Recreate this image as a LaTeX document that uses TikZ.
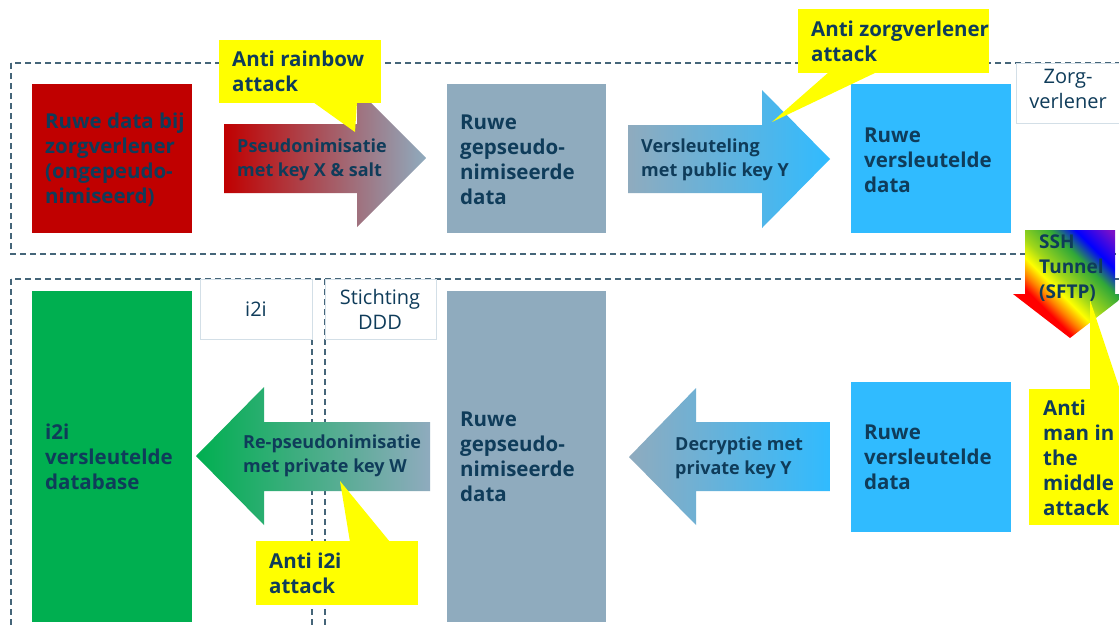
\documentclass[tikz,border=0pt]{standalone}
\usepackage{fontspec}
\setmainfont{Open Sans}
\usetikzlibrary{shadings}
\definecolor{tx}{HTML}{0F3C5A}
\definecolor{rd}{HTML}{C00000}
\definecolor{gb}{HTML}{8FABBE}
\definecolor{cy}{HTML}{30BBFF}
\definecolor{gn}{HTML}{00AF50}
\definecolor{yl}{HTML}{FFFF00}
\definecolor{dl}{HTML}{456579}
\definecolor{lb}{HTML}{D3DFE7}
\definecolor{rbgreen}{HTML}{30A838}
\definecolor{rbviolet}{HTML}{7A10C8}
\pgfdeclarehorizontalshading{rainbowsh}{100bp}{color(0bp)=(red); color(34bp)=(red); color(38.5bp)=(orange); color(44bp)=(yellow); color(50bp)=(yellow!55!rbgreen); color(61bp)=(rbgreen); color(69bp)=(blue); color(80bp)=(rbviolet); color(100bp)=(rbviolet)}
\tikzset{
  bt/.style={font=\bfseries\fontsize{20.5}{25}\selectfont, text=tx, align=left, inner sep=0pt, anchor=west},
  atx/.style={font=\bfseries\fontsize{18}{24}\selectfont, text=tx, align=left, inner sep=0pt, anchor=west},
  rt/.style={font=\fontsize{20}{25}\selectfont, text=tx, align=center, inner sep=0pt},
  blk/.style={inner sep=0pt, outer sep=0pt, draw=none},
  frame/.style={draw=dl, line width=1.1pt, dash pattern=on 6pt off 4pt},
  lbox/.style={fill=white, draw=lb, line width=1.2pt, inner sep=0pt},
}
\begin{document}
\begin{tikzpicture}[x=1pt,y=-1pt]
\useasboundingbox (0,0) rectangle (1119,627);
\clip (0,0) rectangle (1119,627);
\fill[white] (0,0) rectangle (1119,627);

% dashed frames
\draw[frame] (11,63) rectangle (1135,254);
\draw[frame] (11,279) rectangle (1135,650);
\coordinate (v1t) at (312,279); \coordinate (v1b) at (312,627);
\coordinate (v2t) at (325,279); \coordinate (v2b) at (325,627);
\draw[frame] (v1t) -- (v1b);
\draw[frame] (v2t) -- (v2b);

% label boxes
\node[lbox, minimum width=110, minimum height=60, anchor=north west] (zv) at (1016,63) {};
\node[rt] (zvt) at (1068,89) {Zorg-\\verlener};
\node[lbox, minimum width=112, minimum height=60, anchor=north west] (i2ib) at (200,279) {};
\node[rt] (i2it) at (256,309) {i2i};
\node[lbox, minimum width=111, minimum height=60, anchor=north west] (dddb) at (325,279) {};
\node[rt] (dddt) at (380,309) {Stichting\\DDD};

% top row blocks
\node[blk, fill=rd, minimum width=160, minimum height=149, anchor=north west] (raw) at (32,84) {};
\node[bt] (rawt) at (45,160) {Ruwe data bij\\zorgverlener\\(ongepeudo-\\nimiseerd)};
\node[blk, fill=gb, minimum width=159, minimum height=149, anchor=north west] (ps1) at (447,84) {};
\node[bt] (ps1t) at (460,160) {Ruwe\\gepseudo-\\nimiseerde\\data};
\node[blk, fill=cy, minimum width=160, minimum height=149, anchor=north west] (enc1) at (851,84) {};
\node[bt] (enc1t) at (864,160) {Ruwe\\versleutelde\\data};

% bottom row blocks
\node[blk, fill=gn, minimum width=160, minimum height=331, anchor=north west] (db) at (32,291) {};
\node[bt] (dbt) at (45,457) {i2i\\versleutelde\\database};
\node[blk, fill=gb, minimum width=159, minimum height=331, anchor=north west] (ps2) at (447,291) {};
\node[bt] (ps2t) at (460,457) {Ruwe\\gepseudo-\\nimiseerde\\data};
\node[blk, fill=cy, minimum width=160, minimum height=150, anchor=north west] (enc2) at (851,382) {};
\node[bt] (enc2t) at (864,457) {Ruwe\\versleutelde\\data};

% block arrows
\shade[left color=rd, right color=gb] (224,124) -- (357,124) -- (357,89) -- (426,158) -- (357,227) -- (357,193) -- (224,193) -- cycle;
\node[atx] (a1t) at (237,160) {Pseudonimisatie\\met key X \& salt};
\shade[left color=gb, right color=cy] (628,125) -- (762,125) -- (762,90) -- (830,159) -- (762,228) -- (762,193) -- (628,193) -- cycle;
\node[atx] (a2t) at (641,160) {Versleuteling\\met public key Y};
\shade[left color=gb, right color=cy] (830,422) -- (696,422) -- (696,388) -- (629,457) -- (696,525) -- (696,491) -- (830,491) -- cycle;
\node[atx] (a3t) at (675,458) {Decryptie met\\private key Y};
\shade[left color=gn, right color=gb] (430,422) -- (264,422) -- (264,387) -- (196,456) -- (264,525) -- (264,491) -- (430,491) -- cycle;
\node[atx] (a4t) at (243,456) {Re-pseudonimisatie\\met private key W};

% SSH tunnel arrow
\shade[shading=rainbowsh, shading angle=45] (1025,230) -- (1115,230) -- (1115,294) -- (1127,294) -- (1070,338) -- (1013,294) -- (1025,294) -- cycle;
\node[bt, font=\bfseries\fontsize{19}{25}\selectfont] (ssht) at (1039,268) {SSH\\Tunnel\\(SFTP)};

% callouts
\fill[yl] (219,40) rectangle (381,103);
\fill[yl] (313,102) -- (357,102) -- (355,132) -- cycle;
\node[bt] (c1) at (232,71) {Anti rainbow\\attack};
\fill[yl] (798,9) rectangle (989,73);
\fill[yl] (829,72) -- (877,72) -- (772,122) -- cycle;
\node[bt] (c2) at (811,41) {Anti zorgverlener\\attack};
\fill[yl] (256,541) rectangle (418,605);
\fill[yl] (350,542) -- (390,542) -- (340,481) -- cycle;
\node[bt] (c3) at (269,573) {Anti i2i\\attack};
\fill[yl] (1029,389) rectangle (1125,525);
\fill[yl] (1090,390) -- (1090,300) -- (1120,390) -- cycle;
\node[bt] (c4) at (1043,458) {Anti\\man in\\the\\middle\\attack};
\end{tikzpicture}
\end{document}
